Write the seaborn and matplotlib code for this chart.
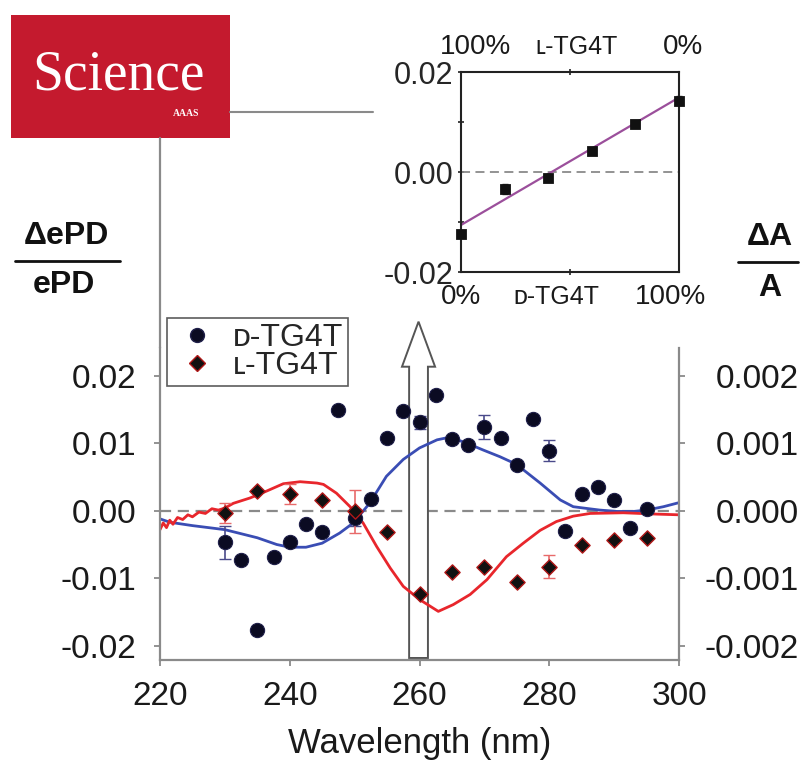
import matplotlib
matplotlib.use("Agg")
import matplotlib.pyplot as plt
from matplotlib.patches import Rectangle, FancyArrow
from matplotlib.lines import Line2D
import numpy as np
import pandas as pd
import seaborn as sns

# ---------------- data ----------------
# D-TG4T photodetachment asymmetry (points, left axis)
d_wl = [230, 232.5, 235, 237.5, 240, 242.5, 245, 247.5, 250, 252.5, 255, 257.5, 260,
        262.5, 265, 267.5, 270, 272.5, 275, 277.5, 280, 282.5, 285, 287.5, 290, 292.5, 295]
d_val = [-0.0047, -0.0073, -0.0177, -0.0069, -0.0047, -0.0020, -0.0031, 0.0149, -0.0010,
         0.0018, 0.0108, 0.0147, 0.0131, 0.0171, 0.0106, 0.0098, 0.0124, 0.0107, 0.0068,
         0.0136, 0.0089, -0.0030, 0.0025, 0.0035, 0.0016, -0.0026, 0.0003]
d_err = [0.0024, 0, 0, 0, 0, 0, 0, 0, 0.0012, 0, 0, 0, 0.0010, 0, 0, 0, 0.0018, 0, 0,
         0, 0.0016, 0, 0, 0, 0, 0, 0]

# L-TG4T photodetachment asymmetry (points, left axis)
l_wl = [230, 235, 240, 245, 250, 255, 260, 265, 270, 275, 280, 285, 290, 295]
l_val = [-0.0003, 0.0029, 0.0025, 0.0016, -0.0001, -0.0032, -0.0123, -0.0091, -0.0083,
         -0.0106, -0.0083, -0.0050, -0.0043, -0.0041]
l_err = [0.0015, 0, 0.0015, 0, 0.0032, 0, 0, 0, 0, 0, 0.0017, 0, 0, 0]

# CD spectra (lines, right axis, dA/A)
cd_d_wl = [220, 221.5, 225, 230, 235, 238, 240, 242.5, 245, 247.7, 249.8, 252.3, 254.9,
           257.5, 260, 262.7, 264.7, 267.3, 269.8, 272.4, 274.9, 278.6, 281.7, 283.7,
           285.3, 287.8, 290.4, 293, 295, 297.6, 300]
cd_d_val = [-0.00012, -0.00017, -0.00022, -0.00028, -0.00040, -0.00050, -0.00054, -0.00054,
            -0.00048, -0.00033, -0.00018, 0.00011, 0.00051, 0.00076, 0.00093, 0.00105,
            0.00109, 0.00100, 0.00090, 0.00080, 0.00069, 0.00041, 0.00016, 0.00006,
            0.00004, 0.00001, -0.00001, -0.00001, 0.00001, 0.00006, 0.00012]
cd_l_wl = [220, 220.5, 221, 221.5, 222, 222.7, 223.5, 224.3, 225, 226, 227, 228, 229, 230,
           231.3, 233.9, 236.4, 239, 241.6, 244.2, 245.2, 247.2, 249.3, 251.3, 253.4, 255.5,
           257.5, 260.1, 262.9, 265.2, 267.8, 270.4, 273.4, 276, 278.6, 281.1, 283.7, 286.3,
           291.4, 296.6, 300]
cd_l_val = [-0.00028, -0.00018, -0.00025, -0.00014, -0.00020, -0.00010, -0.00013, -0.00006,
            -0.00009, -0.00002, -0.00004, 0.00003, 0.00001, 0.00004, 0.00011, 0.00019,
            0.00029, 0.00040, 0.00043, 0.00041, 0.00039, 0.00026, 0.00006, -0.00018,
            -0.00053, -0.00085, -0.00112, -0.00132, -0.00149, -0.00139, -0.00124, -0.00102,
            -0.00068, -0.00048, -0.00029, -0.00016, -0.00008, -0.00004, -0.00003, -0.00005,
            -0.00006]

# inset: asymmetry at 260 nm vs enantiomeric composition
in_x = [0, 20, 40, 60, 80, 100]
in_y = [-0.0124, -0.0033, -0.0011, 0.0043, 0.0097, 0.0143]
in_err = [0.0005, 0.0010, 0.0004, 0.0006, 0.0005, 0.0009]
fit_x = [0, 100]
fit_y = [-0.0106, 0.0149]

x_ticks = [220, 240, 260, 280, 300]
left_ticks = [-0.02, -0.01, 0.0, 0.01, 0.02]
left_labels = ["-0.02", "-0.01", "0.00", "0.01", "0.02"]
right_ticks = [-0.002, -0.001, 0.0, 0.001, 0.002]
right_labels = ["-0.002", "-0.001", "0.000", "0.001", "0.002"]
inset_yticks = [-0.02, 0.0, 0.02]
inset_ylabels = ["-0.02", "0.00", "0.02"]

# ---------------- style ----------------
sns.set_theme(style="white")
plt.rcParams["font.family"] = ["Liberation Sans", "DejaVu Sans"]
plt.rcParams["axes.unicode_minus"] = False

W, H = 801, 766
def fx(p): return p / W
def fy(p): return 1 - p / H

GRAY = "#8a8a8a"
BLUE = "#3a4db4"
RED = "#e8262c"

fig = plt.figure(figsize=(W / 100, H / 100), dpi=100)
fig.patch.set_facecolor("white")

ax2 = fig.add_axes([fx(160), fy(660), 519 / W, 312 / H])
ax = ax2.twinx()
ax.xaxis.set_visible(True)
ax.yaxis.tick_left()
ax.yaxis.set_label_position("left")
ax2.yaxis.tick_right()
ax2.yaxis.set_label_position("right")
ax.set_zorder(ax2.get_zorder() + 1)
ax.patch.set_visible(False)

ylo, yhi = -0.0221, 0.0241
ax.set_xlim(220, 300)
ax.set_ylim(ylo, yhi)
ax2.set_ylim(ylo / 10, yhi / 10)

# zero line and arrow (right-axis units)
ax2.axhline(0, color=GRAY, lw=1.6, ls=(0, (5, 3)), zorder=1)
arrow = FancyArrow(259.85, -0.00218, 0, 0.00498, width=2.9, head_width=5.1,
                   head_length=0.000667, length_includes_head=True,
                   fc="white", ec="#555555", lw=1.4, clip_on=False, zorder=1.5)
ax2.add_patch(arrow)

# CD curves
df_d = pd.DataFrame({"wl": cd_d_wl, "v": cd_d_val})
df_l = pd.DataFrame({"wl": cd_l_wl, "v": cd_l_val})
sns.lineplot(data=df_d, x="wl", y="v", ax=ax2, color=BLUE, lw=2, sort=False,
             estimator=None, zorder=2)
sns.lineplot(data=df_l, x="wl", y="v", ax=ax2, color=RED, lw=2, sort=False,
             estimator=None, zorder=2)

# error bars + points
ax.errorbar(d_wl, d_val, yerr=d_err, fmt="none", ecolor="#4a4a8a", elinewidth=1.2,
            capsize=4, zorder=2)
ax.errorbar(l_wl, l_val, yerr=l_err, fmt="none", ecolor="#e86a6a", elinewidth=1.2,
            capsize=4, zorder=2)
sns.scatterplot(x=d_wl, y=d_val, ax=ax, marker="o", s=105, color="#0b0b22",
                edgecolor="#20204a", linewidth=0.8, zorder=3)
sns.scatterplot(x=l_wl, y=l_val, ax=ax, marker="D", s=60, color="#111111",
                edgecolor="#b01818", linewidth=1.0, zorder=3)

# axes styling
ax.set_xticks(x_ticks)
ax.set_xticklabels([str(t) for t in x_ticks])
ax.set_yticks(left_ticks)
ax.set_yticklabels(left_labels)
ax2.set_yticks(right_ticks)
ax2.set_yticklabels(right_labels)
for a in (ax, ax2):
    for s in a.spines.values():
        s.set_visible(False)
    a.set_xlabel("")
    a.set_ylabel("")
ax.spines["left"].set_visible(True)
ax.spines["bottom"].set_visible(True)
ax2.spines["right"].set_visible(True)
for s in (ax.spines["left"], ax.spines["bottom"], ax2.spines["right"]):
    s.set_color(GRAY)
    s.set_linewidth(1.6)
ax.tick_params(axis="both", direction="out", length=4, width=1.3, color=GRAY,
               labelsize=24, labelcolor="#1a1a1a", left=True, bottom=True,
               labelbottom=True, top=False, labeltop=False, right=False, labelright=False)
ax.tick_params(axis="y", pad=13)
ax.tick_params(axis="x", pad=11)
ax2.tick_params(axis="y", direction="out", length=4, width=1.3, color=GRAY,
                labelsize=24, labelcolor="#1a1a1a", right=True, left=False,
                labelleft=False, pad=82)
ax2.tick_params(axis="x", bottom=False, labelbottom=False)
for t in ax2.get_yticklabels():
    t.set_horizontalalignment("right")
ax.set_xlabel("Wavelength (nm)", fontsize=25, labelpad=11, color="#1a1a1a")

# legend
h_d = Line2D([], [], marker="o", ls="none", color="#0b0b22", mec="#20204a", ms=10)
h_l = Line2D([], [], marker="D", ls="none", color="#111111", mec="#b01818", ms=8)
leg = ax.legend([h_d, h_l], ["\u1d05-TG4T", "\u029f-TG4T"], loc="upper left",
                bbox_to_anchor=(0.0135, 1.096), fontsize=23, frameon=True,
                fancybox=False, edgecolor="#333333", borderaxespad=0,
                handletextpad=0.3, labelspacing=-0.05, borderpad=0.15,
                handlelength=1.6)
leg.get_frame().set_linewidth(1.2)
leg.set_zorder(10)

# axis fraction labels
fig.text(fx(66), fy(236), "\u0394ePD", ha="center", va="center", fontsize=23,
         fontweight="bold", color="#111111")
fig.add_artist(Line2D([fx(15), fx(120)], [fy(261), fy(261)], color="#111111", lw=2,
                      transform=fig.transFigure))
fig.text(fx(64), fy(285), "ePD", ha="center", va="center", fontsize=23,
         fontweight="bold", color="#111111")
fig.text(fx(770), fy(237), "\u0394A", ha="center", va="center", fontsize=23,
         fontweight="bold", color="#111111")
fig.add_artist(Line2D([fx(738), fx(798)], [fy(262), fy(262)], color="#111111", lw=2,
                      transform=fig.transFigure))
fig.text(fx(770), fy(288), "A", ha="center", va="center", fontsize=23,
         fontweight="bold", color="#111111")

# Science logo and connector lines
fig.add_artist(Rectangle((fx(11), fy(138)), 219 / W, 123 / H, transform=fig.transFigure,
                         facecolor="#c41a2e", edgecolor="none"))
fig.text(fx(118), fy(76), "Science", ha="center", va="center", fontsize=40,
         family=["Liberation Serif", "DejaVu Serif"], color="white")
fig.text(fx(186), fy(113), "AAAS", ha="center", va="center", fontsize=7,
         family=["Liberation Serif", "DejaVu Serif"], color="white", fontweight="bold")
fig.add_artist(Line2D([fx(230), fx(373)], [fy(112), fy(112)], color=GRAY, lw=1.5,
                      transform=fig.transFigure))
fig.add_artist(Line2D([fx(160), fx(160)], [fy(138), fy(348)], color=GRAY, lw=1.6,
                      transform=fig.transFigure))

# inset
axin = fig.add_axes([fx(461), fy(272), 218 / W, 200 / H])
axin.set_xlim(0, 100)
axin.set_ylim(-0.02, 0.02)
axin.axhline(0, color=GRAY, lw=1.3, ls=(0, (5, 3)), zorder=1)
sns.lineplot(x=fit_x, y=fit_y, ax=axin, color="#9b4f9b", lw=1.6, zorder=2)
axin.errorbar(in_x, in_y, yerr=in_err, fmt="none", ecolor="#333333", elinewidth=1,
              capsize=2, zorder=3, clip_on=False)
sns.scatterplot(x=in_x, y=in_y, ax=axin, marker="s", s=55, color="#111111",
                edgecolor="#111111", zorder=4, clip_on=False)
for s in axin.spines.values():
    s.set_visible(True)
    s.set_color("#222222")
    s.set_linewidth(1.5)
axin.set_yticks(inset_yticks)
axin.set_yticklabels(inset_ylabels)
axin.set_yticks([-0.01, 0.01], minor=True)
axin.set_xticks([50])
axin.set_xticklabels([""])
axin.tick_params(axis="y", which="both", direction="inout", length=5, width=1.2,
                 color="#222222", labelsize=22, pad=3, left=True, right=False)
axin.tick_params(axis="x", direction="inout", length=5, width=1.2, color="#222222",
                 bottom=True, top=True, labelbottom=False)
txtkw = dict(transform=axin.transAxes, ha="center", va="center", color="#1a1a1a")
axin.text(0.0, -0.125, "0%", fontsize=20, **txtkw)
axin.text(0.436, -0.125, "\u1d05-TG4T", fontsize=18, **txtkw)
axin.text(0.96, -0.125, "100%", fontsize=20, **txtkw)
axin.text(0.065, 1.125, "100%", fontsize=20, **txtkw)
axin.text(0.53, 1.125, "\u029f-TG4T", fontsize=18, **txtkw)
axin.text(1.02, 1.125, "0%", fontsize=20, **txtkw)

fig.savefig("out.png", dpi=100, facecolor="white")
